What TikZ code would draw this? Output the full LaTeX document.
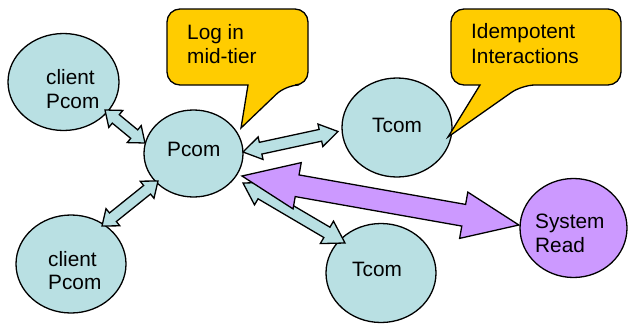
\documentclass[tikz,border=0pt]{standalone}
\usepackage{fontspec}
\setmainfont{Liberation Sans}
\usetikzlibrary{shapes.geometric,calc}
\definecolor{teal1}{RGB}{185,224,227}
\definecolor{purp}{RGB}{204,153,255}
\definecolor{yel}{RGB}{255,204,0}
\newcommand\dblarrow[6]{%
  \coordinate (da1) at (#1); \coordinate (da2) at (#2);
  \coordinate (h1) at ($(da1)!#5!(da2)$);
  \coordinate (h2) at ($(da2)!#5!(da1)$);
  \draw[#6] (da1) -- ($(h1)!#4!90:(da2)$) -- ($(h1)!#3!90:(da2)$)
    -- ($(h2)!#3!-90:(da1)$) -- ($(h2)!#4!-90:(da1)$) -- (da2)
    -- ($(h2)!#4!90:(da1)$) -- ($(h2)!#3!90:(da1)$)
    -- ($(h1)!#3!-90:(da2)$) -- ($(h1)!#4!-90:(da2)$) -- cycle;}
\tikzset{
  ell/.style={ellipse, draw, line width=1.3pt, fill=teal1, inner sep=0pt},
  txt/.style={inner sep=0pt, anchor=base west, font=\fontsize{20.8}{24}\selectfont},
  tarrow/.style={draw, line width=1.3pt, fill=teal1, line join=miter},
  parrow/.style={draw, line width=1.3pt, fill=purp, line join=miter},
  callout/.style={draw, line width=1.3pt, fill=yel, line join=miter}
}
\begin{document}
\begin{tikzpicture}[x=1pt,y=-1pt]
\useasboundingbox (0,0) rectangle (628,324);
% ellipses
\node[ell, minimum width=111pt, minimum height=97pt] (cpa) at (63.5,82) {};
\node[ell, minimum width=99pt, minimum height=87pt] (pcom) at (193.5,153.5) {};
\node[ell, minimum width=110pt, minimum height=98pt] (cpb) at (71,264) {};
\node[ell, minimum width=110pt, minimum height=99pt] (tca) at (397,127.5) {};
\node[ell, minimum width=110pt, minimum height=99pt] (tcb) at (381,273) {};
\node[ell, fill=purp, minimum width=107pt, minimum height=99pt] (sr) at (573.5,228) {};
% texts
\node[txt] (t1) at (46,84) {client};
\node[txt] (t2) at (46,108) {Pcom};
\node[txt] (t3) at (167,156) {Pcom};
\node[txt] (t4) at (48,266) {client};
\node[txt] (t5) at (48,289) {Pcom};
\node[txt] (t6) at (372,132) {Tcom};
\node[txt] (t7) at (352,276) {Tcom};
\node[txt] (t8) at (535,228) {System};
\node[txt] (t9) at (535,252) {Read};
% arrows
\dblarrow{$(cpa)+(41.5,28)$}{$(pcom)+(-48.5,-10.5)$}{5.5pt}{11pt}{14pt}{tarrow}
\dblarrow{$(cpb)+(31,-38)$}{$(pcom)+(-35.5,27.5)$}{5.5pt}{11pt}{14pt}{tarrow}
\dblarrow{$(pcom)+(49.5,-1.5)$}{$(tca)+(-59,4)$}{6pt}{11.5pt}{18pt}{tarrow}
\dblarrow{$(pcom)+(49.5,29.5)$}{$(tcb)+(-36,-30)$}{6pt}{13pt}{21pt}{tarrow}
\dblarrow{$(pcom)+(48.5,22.5)$}{$(sr.west)+(-0.5,-3)$}{11pt}{23.5pt}{56pt}{parrow}
% callouts
\draw[callout] (241,128) -- (248,85) [rounded corners=13pt] -- (167,85) -- (167,9) -- (308,9) -- (308,85) -- (286,85) [sharp corners] -- cycle;
\draw[callout] (448,137) -- (480,85) [rounded corners=13pt] -- (451,85) -- (451,9) -- (621,9) -- (621,85) -- (522,85) [sharp corners] -- cycle;
\node[txt] (c1) at (187,39) {Log in};
\node[txt] (c2) at (187,63) {mid-tier};
\node[txt] (c3) at (471,38) {Idempotent};
\node[txt] (c4) at (471,63) {Interactions};
\end{tikzpicture}
\end{document}
